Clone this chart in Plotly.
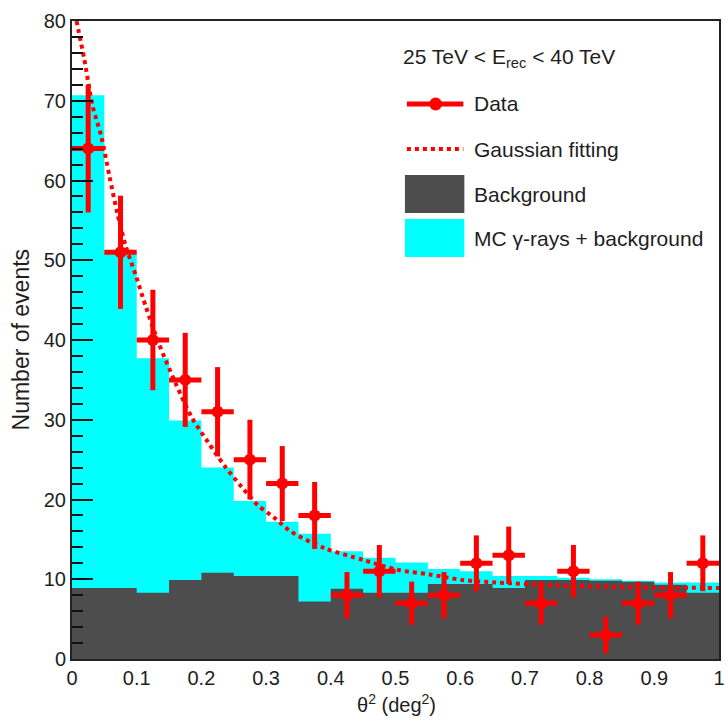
import plotly.graph_objects as go

# ---------------- data ----------------
bin_centers = [0.025, 0.075, 0.125, 0.175, 0.225, 0.275, 0.325, 0.375, 0.425, 0.475,
               0.525, 0.575, 0.625, 0.675, 0.725, 0.775, 0.825, 0.875, 0.925, 0.975]
bin_width = 0.05
mc_gamma_plus_bkg = [70.7, 51.0, 37.7, 29.9, 24.0, 19.8, 17.2, 15.7, 13.5, 12.7,
                     12.1, 11.3, 11.0, 10.4, 10.4, 10.2, 10.0, 9.8, 9.6, 9.6]
background = [8.9, 8.9, 8.3, 9.9, 10.8, 10.4, 10.4, 7.2, 8.8, 8.3,
              8.3, 9.4, 9.4, 8.9, 9.9, 9.9, 9.8, 9.7, 9.3, 8.3]
data_counts = [64, 51, 40, 35, 31, 25, 22, 18, 8, 11, 7, 8, 12, 13, 7, 11, 3, 7, 8, 12]
data_err = [8.0, 7.1, 6.3, 5.9, 5.6, 5.0, 4.7, 4.2, 2.9, 3.3,
            2.7, 2.9, 3.5, 3.6, 2.7, 3.3, 2.3, 2.7, 2.9, 3.5]
fit_x = [0.007, 0.019, 0.032, 0.045, 0.058, 0.070, 0.083, 0.099, 0.114, 0.134,
         0.160, 0.185, 0.211, 0.236, 0.262, 0.287, 0.313, 0.338, 0.390, 0.451,
         0.502, 0.553, 0.604, 0.655, 0.757, 0.859, 1.0]
fit_y = [80.0, 75.2, 69.3, 65.6, 60.5, 55.9, 51.8, 48.0, 44.2, 39.6,
         34.6, 30.3, 27.1, 24.2, 21.6, 19.3, 17.7, 16.0, 13.9, 12.4,
         11.2, 10.6, 9.9, 9.6, 9.2, 9.0, 8.9]
x_tick_vals = [0, 0.1, 0.2, 0.3, 0.4, 0.5, 0.6, 0.7, 0.8, 0.9, 1.0]
x_tick_text = ["0", "0.1", "0.2", "0.3", "0.4", "0.5", "0.6", "0.7", "0.8", "0.9", "1"]
y_tick_vals = [0, 10, 20, 30, 40, 50, 60, 70, 80]
y_tick_text = ["0", "10", "20", "30", "40", "50", "60", "70", "80"]

legend_title = "25 TeV &lt; E<sub>rec</sub> &lt; 40 TeV"
legend_labels = ["Data", "Gaussian fitting", "Background", "MC γ-rays + background"]

# ---------------- styles ----------------
RED = "#ff0000"
GREY = "#4d4d4d"
CYAN = "#00ffff"
TXT = "#1e1e1e"
FONT = "Liberation Sans, Arial, Helvetica, sans-serif"

W, H = 728, 724
ML, MR, MT, MB = 72, 3, 21, 65

def px(x):
    return (x - ML) / (W - ML - MR)

def py(y):
    return (H - MB - y) / (H - MT - MB)

def step_xy(centers, values, width):
    """Histogram outline as a step line (left edges + final right edge)."""
    xs = [c - width / 2 for c in centers] + [centers[-1] + width / 2]
    ys = list(values) + [values[-1]]
    return xs, ys

fig = go.Figure()

mx, my = step_xy(bin_centers, mc_gamma_plus_bkg, bin_width)
fig.add_trace(go.Scatter(
    x=mx, y=my, mode="lines", line=dict(color=CYAN, width=0, shape="hv"),
    fill="tozeroy", fillcolor=CYAN, showlegend=False, name=legend_labels[3],
    hoverinfo="skip"))
bx, by = step_xy(bin_centers, background, bin_width)
fig.add_trace(go.Scatter(
    x=bx, y=by, mode="lines", line=dict(color=GREY, width=0, shape="hv"),
    fill="tozeroy", fillcolor=GREY, showlegend=False, name=legend_labels[2],
    hoverinfo="skip"))
fig.add_trace(go.Scatter(
    x=fit_x, y=fit_y, mode="lines",
    line=dict(color=RED, width=4, dash="4px,4px", shape="spline", smoothing=0.8),
    showlegend=False, name=legend_labels[1]))
fig.add_trace(go.Scatter(
    x=bin_centers, y=data_counts, mode="markers",
    marker=dict(color=RED, size=12, symbol="circle"),
    error_y=dict(type="data", array=data_err, color=RED, thickness=5, width=0),
    error_x=dict(type="constant", value=bin_width / 2, color=RED, thickness=5, width=0),
    showlegend=False, name=legend_labels[0]))

# ---------------- custom legend (ROOT-like) ----------------
shapes = []
lx0, lx1 = 410, 467
row_y = [104, 149, 194, 238]
shapes.append(dict(type="line", xref="paper", yref="paper",
                   x0=px(lx0), x1=px(lx1), y0=py(row_y[0]), y1=py(row_y[0]),
                   line=dict(color=RED, width=5)))
shapes.append(dict(type="circle", xref="paper", yref="paper",
                   x0=px(432.5), x1=px(445.5), y0=py(row_y[0] + 6.5), y1=py(row_y[0] - 6.5),
                   fillcolor=RED, line=dict(color=RED, width=0)))
shapes.append(dict(type="line", xref="paper", yref="paper",
                   x0=px(lx0), x1=px(lx1), y0=py(row_y[1]), y1=py(row_y[1]),
                   line=dict(color=RED, width=4, dash="4px,4px")))
shapes.append(dict(type="rect", xref="paper", yref="paper",
                   x0=px(408), x1=px(468), y0=py(row_y[2] + 19), y1=py(row_y[2] - 19),
                   fillcolor=GREY, line=dict(width=0)))
shapes.append(dict(type="rect", xref="paper", yref="paper",
                   x0=px(408), x1=px(468), y0=py(row_y[3] + 19), y1=py(row_y[3] - 19),
                   fillcolor=CYAN, line=dict(width=0)))

annotations = []
annotations.append(dict(text=legend_title, xref="paper", yref="paper",
                        x=px(404), y=py(58), xanchor="left", yanchor="middle",
                        showarrow=False, font=dict(family=FONT, size=21, color=TXT)))
for lab, yy in zip(legend_labels, row_y):
    annotations.append(dict(text=lab, xref="paper", yref="paper",
                            x=px(476), y=py(yy), xanchor="left", yanchor="middle",
                            showarrow=False, font=dict(family=FONT, size=21, color=TXT)))
# axis titles
annotations.append(dict(text="Number of events", xref="paper", yref="paper",
                        x=px(21), y=py(339), xanchor="center", yanchor="middle",
                        textangle=-90, showarrow=False,
                        font=dict(family=FONT, size=23, color=TXT)))
annotations.append(dict(text="θ<sup>2</sup> (deg<sup>2</sup>)", xref="paper", yref="paper",
                        x=px(400), y=py(703), xanchor="center", yanchor="middle",
                        showarrow=False, font=dict(family=FONT, size=20, color=TXT)))

fig.update_layout(
    width=W, height=H,
    margin=dict(l=ML, r=MR, t=MT, b=MB, pad=0),
    paper_bgcolor="white", plot_bgcolor="white",
    shapes=shapes, annotations=annotations,
    showlegend=False,
)
fig.update_xaxes(
    range=[0, 1], tickvals=x_tick_vals, ticktext=x_tick_text,
    showline=True, linecolor="#222", linewidth=2, mirror=True,
    ticks="", showgrid=False, zeroline=False,
    tickfont=dict(family=FONT, size=20, color=TXT),
    ticklabeloverflow="allow",
    layer="above traces",
)
fig.update_yaxes(
    range=[0, 80], tickvals=y_tick_vals, ticktext=y_tick_text,
    showline=True, linecolor="#222", linewidth=2, mirror=True,
    ticks="inside", ticklen=21, tickwidth=2, tickcolor="#111",
    minor=dict(ticks="inside", ticklen=11, tickwidth=2, tickcolor="#111", dtick=2),
    showgrid=False, zeroline=False,
    tickfont=dict(family=FONT, size=20, color=TXT),
    ticklabeloverflow="allow",
    layer="above traces",
)

fig.write_html("out.html")
